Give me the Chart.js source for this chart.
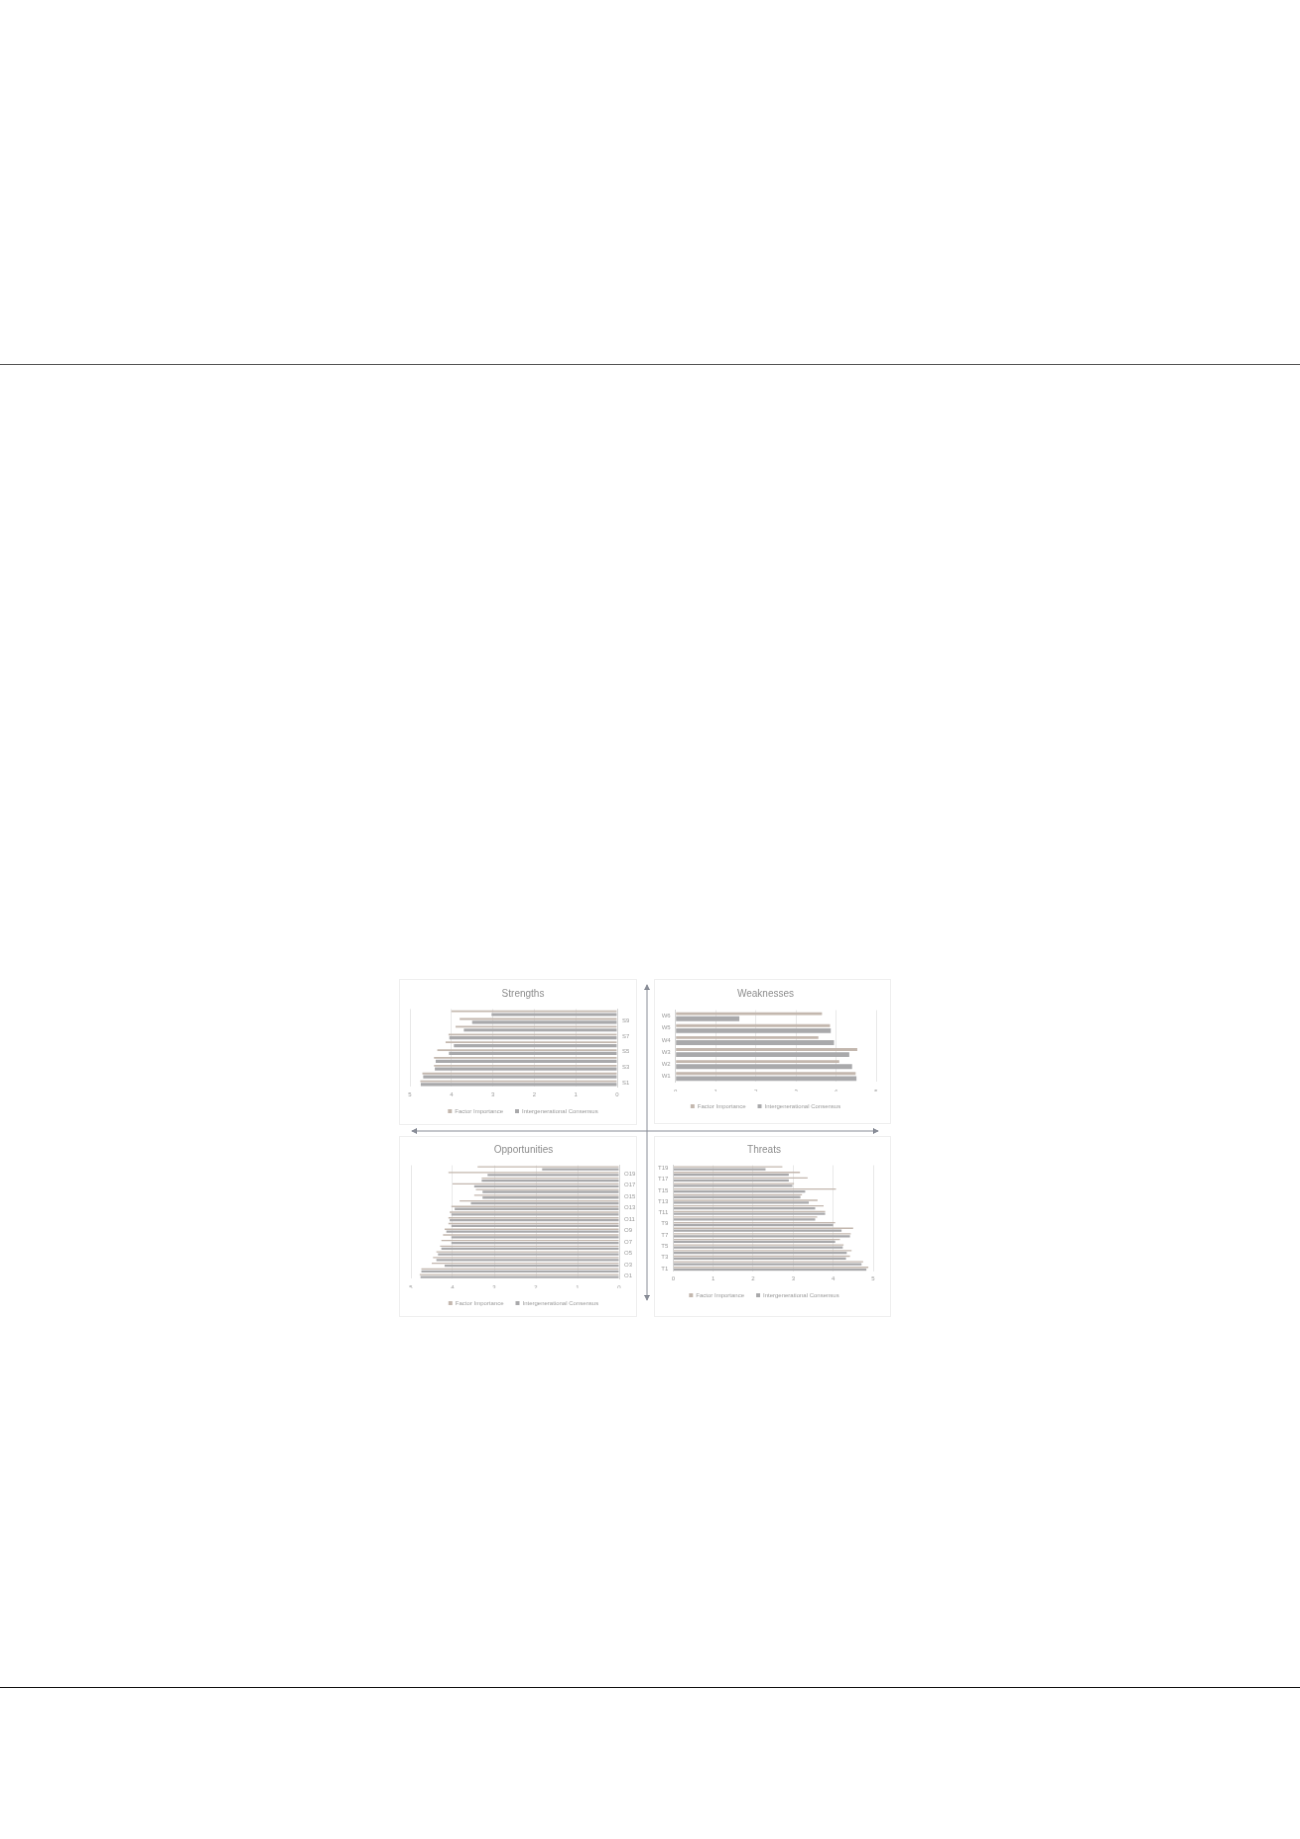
<!DOCTYPE html>
<html>
<head>
<meta charset="utf-8">
<title>SWOT</title>
<script src="https://cdn.jsdelivr.net/npm/chart.js@4.4.1/dist/chart.umd.min.js"></script>
<style>
  html, body { margin: 0; padding: 0; background: #fff; }
  body { width: 1300px; height: 1839px; position: relative; overflow: hidden; }
  .rule { position: absolute; left: 0; width: 1300px; height: 0; }
  #ruleTop { top: 364px; border-top: 1.5px solid #555; }
  #ruleBottom { top: 1687px; border-top: 1px solid #111; }
  canvas { position: absolute; border: 1px solid #efefef; }
  #arrows { position: absolute; left: 0; top: 0; }
</style>
</head>
<body>
<div class="rule" id="ruleTop"></div>
<div class="rule" id="ruleBottom"></div>

<canvas id="strengths" width="238" height="146" style="left:399px;top:979px"></canvas>
<canvas id="weaknesses" width="237" height="145" style="left:654px;top:979px"></canvas>
<canvas id="opportunities" width="238" height="181" style="left:399px;top:1136px"></canvas>
<canvas id="threats" width="237" height="181" style="left:654px;top:1136px"></canvas>

<svg id="arrows" width="1300" height="1839">
  <defs>
    <marker id="head" markerWidth="6" markerHeight="6" refX="5" refY="3" orient="auto-start-reverse" markerUnits="userSpaceOnUse">
      <path d="M0,0 L6,3 L0,6 z" fill="#8a8e98"></path>
    </marker>
  </defs>
  <line x1="647" y1="985" x2="647" y2="1300" stroke="#8a8e98" stroke-width="1" marker-start="url(#head)" marker-end="url(#head)"></line>
  <line x1="412" y1="1131" x2="878" y2="1131" stroke="#8a8e98" stroke-width="1" marker-start="url(#head)" marker-end="url(#head)"></line>
</svg>

<script>
// ─── DATA ────────────────────────────────────────────────────────────────────
const SERIES = ['Factor Importance', 'Intergenerational Consensus'];
const X_TICKS = [0, 1, 2, 3, 4, 5];

// category 1 sits at the bottom of each panel
const S_LABELS = ['S1', 'S2', 'S3', 'S4', 'S5', 'S6', 'S7', 'S8', 'S9', 'S10'];
const S_IMPORTANCE = [4.75, 4.70, 4.42, 4.42, 4.34, 4.14, 4.07, 3.90, 3.80, 4.00];
const S_CONSENSUS  = [4.74, 4.68, 4.40, 4.38, 4.06, 3.94, 4.05, 3.70, 3.50, 3.03];

const W_LABELS = ['W1', 'W2', 'W3', 'W4', 'W5', 'W6'];
const W_IMPORTANCE = [4.49, 4.08, 4.53, 3.56, 3.85, 3.65];
const W_CONSENSUS  = [4.51, 4.40, 4.33, 3.95, 3.87, 1.59];

const O_LABELS = ['O1', 'O2', 'O3', 'O4', 'O5', 'O6', 'O7', 'O8', 'O9', 'O10',
                  'O11', 'O12', 'O13', 'O14', 'O15', 'O16', 'O17', 'O18', 'O19', 'O20'];
const O_IMPORTANCE = [4.79, 4.75, 4.50, 4.47, 4.39, 4.30, 4.27, 4.23, 4.19, 4.10,
                      4.10, 4.07, 4.03, 3.83, 3.48, 3.44, 4.00, 3.30, 4.10, 3.40];
const O_CONSENSUS  = [4.77, 4.75, 4.19, 4.39, 4.35, 4.27, 4.03, 4.03, 4.15, 4.03,
                      4.07, 4.03, 3.95, 3.56, 3.28, 3.28, 3.48, 3.30, 3.16, 1.85];

const T_LABELS = ['T1', 'T2', 'T3', 'T4', 'T5', 'T6', 'T7', 'T8', 'T9', 'T10',
                  'T11', 'T12', 'T13', 'T14', 'T15', 'T16', 'T17', 'T18', 'T19'];
const T_IMPORTANCE = [4.88, 4.75, 4.42, 4.46, 4.26, 4.17, 4.44, 4.50, 4.05, 3.60,
                      3.80, 3.76, 3.61, 3.22, 4.07, 3.02, 3.36, 3.17, 2.73];
const T_CONSENSUS  = [4.83, 4.71, 4.32, 4.34, 4.24, 4.05, 4.42, 4.21, 4.00, 3.55,
                      3.80, 3.55, 3.39, 3.18, 3.30, 2.98, 2.89, 2.89, 2.31];

// ─── STYLE ───────────────────────────────────────────────────────────────────
const FI_COLOR    = '#c3b7ae';
const IC_COLOR    = '#a9a9ab';
const GRID_COLOR  = '#e8e8e8';
const AXIS_COLOR  = '#d6d6d6';
const TICK_COLOR  = '#9a9a9a';
const TITLE_COLOR = '#8c8c8c';

Chart.defaults.font.family = "'Liberation Sans', Arial, sans-serif";

// ─── PANEL BUILDER ───────────────────────────────────────────────────────────
function buildPanel(id, p) {
  const ctx = document.getElementById(id).getContext('2d');
  return new Chart(ctx, {
    type: 'bar',
    data: {
      labels: p.labels,
      datasets: [
        { label: SERIES[0], data: p.importance, backgroundColor: FI_COLOR, borderWidth: 0,
          barPercentage: 0.55, categoryPercentage: 0.85 },
        { label: SERIES[1], data: p.consensus, backgroundColor: IC_COLOR, borderWidth: 0,
          barPercentage: 0.95, categoryPercentage: 0.85 },
      ]
    },
    options: {
      indexAxis: 'y',
      responsive: false,
      animation: false,
      layout: { padding: p.pad },
      plugins: {
        title: {
          display: true, text: p.title, color: TITLE_COLOR,
          font: { size: 10, weight: 'normal' }, padding: p.titlePad,
        },
        legend: {
          position: 'bottom',
          labels: { boxWidth: 4, boxHeight: 4, padding: 12, color: TICK_COLOR, font: { size: 6 } },
        },
        tooltip: { enabled: false },
      },
      scales: {
        x: {
          min: X_TICKS[0], max: X_TICKS[X_TICKS.length - 1],
          reverse: p.mirror,
          grid: { color: GRID_COLOR, drawTicks: false },
          border: { display: false },
          afterBuildTicks: s => { s.ticks = X_TICKS.map(v => ({ value: v })); },
          ticks: { color: TICK_COLOR, font: { size: 6 }, padding: p.xPad },
          afterFit: s => { s.height = p.xHeight; },
        },
        y: {
          position: p.mirror ? 'right' : 'left',
          reverse: true,
          grid: { display: false, drawTicks: false },
          border: { color: AXIS_COLOR },
          ticks: {
            autoSkip: false, color: TICK_COLOR, font: { size: 6 }, padding: 5,
            callback: function (v, i) { return i % p.labelStep === 0 ? this.getLabelForValue(v) : ''; },
          },
          afterFit: s => { s.width = p.yWidth; },
        }
      }
    }
  });
}

// ─── INIT ────────────────────────────────────────────────────────────────────
buildPanel('strengths', {
  title: 'Strengths', labels: S_LABELS, importance: S_IMPORTANCE, consensus: S_CONSENSUS,
  mirror: true, labelStep: 2,
  pad: { left: 10, right: 0, top: 0, bottom: 0 },
  titlePad: { top: 8, bottom: 9.4 }, xPad: 4.5, xHeight: 9.8, yWidth: 19,
});

buildPanel('weaknesses', {
  title: 'Weaknesses', labels: W_LABELS, importance: W_IMPORTANCE, consensus: W_CONSENSUS,
  mirror: false, labelStep: 1,
  pad: { left: 0, right: 14, top: 0, bottom: 4 },
  titlePad: { top: 8, bottom: 10.6 }, xPad: 5.9, xHeight: 9.6, yWidth: 20.7,
});

buildPanel('opportunities', {
  title: 'Opportunities', labels: O_LABELS, importance: O_IMPORTANCE, consensus: O_CONSENSUS,
  mirror: true, labelStep: 2,
  pad: { left: 11, right: 0, top: 0, bottom: 0 },
  titlePad: { top: 7, bottom: 9.5 }, xPad: 5.1, xHeight: 9.8, yWidth: 17,
});

buildPanel('threats', {
  title: 'Threats', labels: T_LABELS, importance: T_IMPORTANCE, consensus: T_CONSENSUS,
  mirror: false, labelStep: 2,
  pad: { left: 0, right: 17, top: 0, bottom: 8 },
  titlePad: { top: 7, bottom: 9.5 }, xPad: 3.5, xHeight: 9.2, yWidth: 18.3,
});
</script>
</body>
</html>
